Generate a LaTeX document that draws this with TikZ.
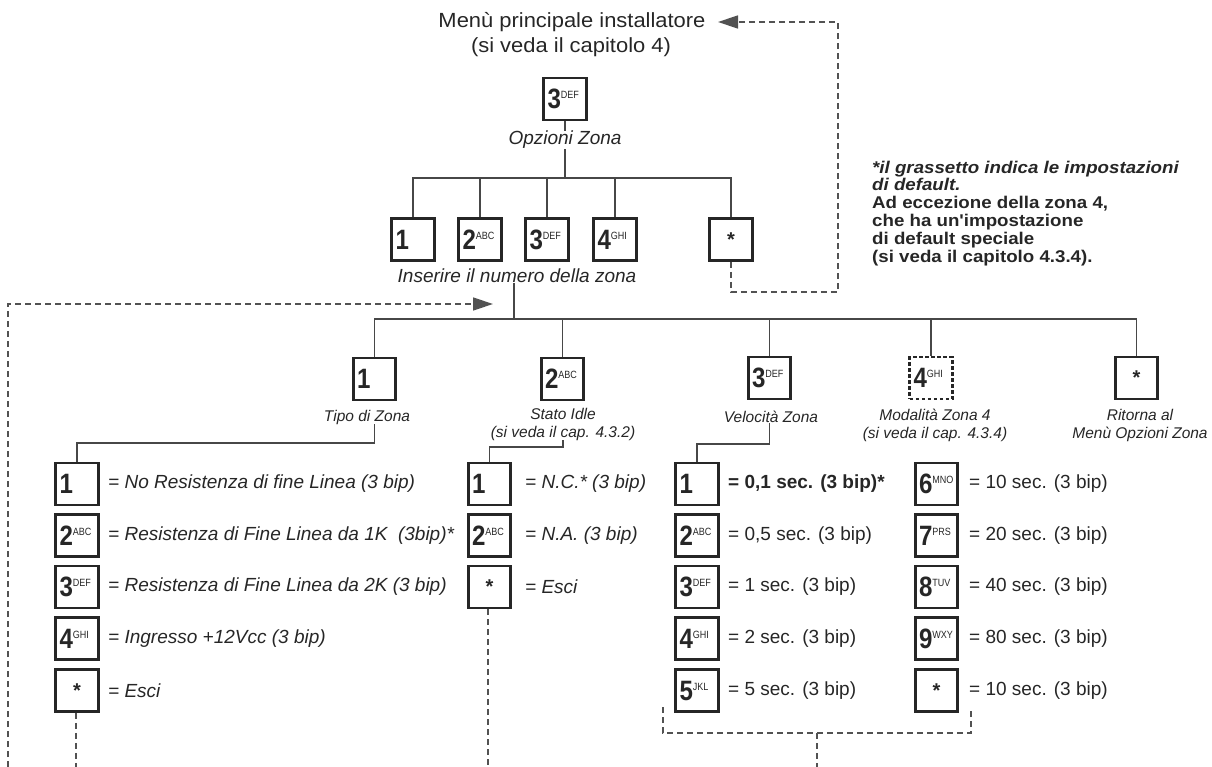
\documentclass[tikz,border=0pt]{standalone}
\usepackage{fontspec}
\setmainfont{Liberation Sans}
\newfontfamily\notefont[FakeStretch=1.1]{Liberation Sans}
\newfontfamily\titlefont[FakeStretch=1.07]{Liberation Sans}
\newfontfamily\keyfont[FakeStretch=0.86]{Liberation Sans}
\usetikzlibrary{arrows.meta}
\definecolor{ink}{gray}{0.15}
\newcommand\keyl[2]{\hbox to 38bp{\hspace{1.5bp}{\keyfont\fontsize{28bp}{28bp}\selectfont\bfseries #1}\raisebox{10bp}{\keyfont\fontsize{10.5bp}{10.5bp}\selectfont #2}\hss}}
\newcommand\keystar{\hbox to 38bp{\hss{\fontsize{20bp}{20bp}\selectfont\bfseries *}\hss}}
\tikzset{
  keybox/.style={draw=ink, line width=2.6bp, minimum width=42.5bp, minimum height=42bp, inner sep=0pt, text=ink},
  keyboxd/.style={keybox, dash pattern=on 3.5bp off 2.5bp},
  conn/.style={draw=ink!85, line width=1.3bp},
  dsh/.style={draw=ink!80, line width=1.4bp, dash pattern=on 6bp off 4bp},
  arrowend/.style={-{Triangle[length=20bp,width=13bp]}},
  opt/.style={anchor=west, inner sep=0pt, text=ink, font=\fontsize{19bp}{22bp}\selectfont\itshape},
  optr/.style={anchor=west, inner sep=0pt, text=ink, font=\fontsize{19bp}{22bp}\selectfont},
  optb/.style={anchor=west, inner sep=0pt, text=ink, font=\fontsize{19bp}{22bp}\selectfont\bfseries},
  sub/.style={inner sep=0pt, text=ink, align=center, font=\fontsize{15.5bp}{18bp}\selectfont\itshape},
  mid/.style={inner sep=0pt, text=ink, font=\fontsize{19bp}{22bp}\selectfont\itshape},
  ttl/.style={inner sep=0pt, text=ink, font=\titlefont\fontsize{20.5bp}{24bp}\selectfont},
}
\begin{document}
\begin{tikzpicture}[x=1bp,y=-1bp]
\useasboundingbox (0,0) rectangle (1212,767);

% title
\node[ttl] (title1) at (572,22) {Menù principale installatore};
\node[ttl] (title2) at (571,47) {(si veda il capitolo 4)};

% top key
\node[keybox] (k0) at (565,99) {\keyl{3}{DEF}};
\node[mid] (opz) at (565,140) {Opzioni Zona};
\coordinate (bus1) at (565,178);

% row 2
\node[keybox] (r1) at (413,239.5) {\keyl{1}{}};
\node[keybox] (r2) at (480,239.5) {\keyl{2}{ABC}};
\node[keybox] (r3) at (547,239.5) {\keyl{3}{DEF}};
\node[keybox] (r4) at (615,239.5) {\keyl{4}{GHI}};
\node[keybox] (r5) at (731,239.5) {\keystar};
\node[mid] (ins) at (517,276) {Inserire il numero della zona};
\coordinate (bus2) at (514,319);

% row 3
\node[keybox] (t1) at (374.5,379) {\keyl{1}{}};
\node[keybox] (t2) at (562.5,379) {\keyl{2}{ABC}};
\node[keybox] (t3) at (769.5,378) {\keyl{3}{DEF}};
\node[keyboxd] (t4) at (931,378) {\keyl{4}{GHI}};
\node[keybox] (t5) at (1136.5,378) {\keystar};

\node[sub] (tipo) at (367,417) {Tipo di Zona};
\node[sub] (stato) at (563,424) {Stato Idle\\(si veda il cap. 4.3.2)};
\node[sub] (vel) at (771,417) {Velocità Zona};
\node[sub] (moda) at (935,425.5) {Modalità Zona 4\\(si veda il cap. 4.3.4)};
\node[sub] (rit) at (1140,425.5) {Ritorna al\\Menù Opzioni Zona};

% column A
\node[keybox] (a1) at (77,484) {\keyl{1}{}};
\node[keybox] (a2) at (77,535.5) {\keyl{2}{ABC}};
\node[keybox] (a3) at (77,587) {\keyl{3}{DEF}};
\node[keybox] (a4) at (77,638.5) {\keyl{4}{GHI}};
\node[keybox] (a5) at (77,690.5) {\keystar};
\node[opt] (at1) at (108,484) {= No Resistenza di fine Linea (3 bip)};
\node[opt] (at2) at (108,535.5) {= Resistenza di Fine Linea da 1K\ \ (3bip)*};
\node[opt] (at3) at (108,587) {= Resistenza di Fine Linea da 2K (3 bip)};
\node[opt] (at4) at (108,638.5) {= Ingresso +12Vcc (3 bip)};
\node[opt] (at5) at (108,690.5) {= Esci};

% column B
\node[keybox] (s1) at (489.5,484) {\keyl{1}{}};
\node[keybox] (s2) at (489.5,535.5) {\keyl{2}{ABC}};
\node[keybox] (s3) at (489.5,587) {\keystar};
\node[opt] (st1) at (525,484) {= N.C.* (3 bip)};
\node[opt] (st2) at (525,535.5) {= N.A. (3 bip)};
\node[opt] (st3) at (525,587) {= Esci};

% column C
\node[keybox] (v1) at (697,484) {\keyl{1}{}};
\node[keybox] (v2) at (697,535.5) {\keyl{2}{ABC}};
\node[keybox] (v3) at (697,587) {\keyl{3}{DEF}};
\node[keybox] (v4) at (697,638.5) {\keyl{4}{GHI}};
\node[keybox] (v5) at (697,690.5) {\keyl{5}{JKL}};
\node[optb] (vt1) at (728,484) {= 0,1 sec. (3 bip)*};
\node[optr] (vt2) at (728,535.5) {= 0,5 sec. (3 bip)};
\node[optr] (vt3) at (728,587) {= 1 sec. (3 bip)};
\node[optr] (vt4) at (728,638.5) {= 2 sec. (3 bip)};
\node[optr] (vt5) at (728,690.5) {= 5 sec. (3 bip)};

% column D
\node[keybox] (w1) at (936.5,484) {\keyl{6}{MNO}};
\node[keybox] (w2) at (936.5,535.5) {\keyl{7}{PRS}};
\node[keybox] (w3) at (936.5,587) {\keyl{8}{TUV}};
\node[keybox] (w4) at (936.5,638.5) {\keyl{9}{WXY}};
\node[keybox] (w5) at (936.5,690.5) {\keystar};
\node[optr] (wt1) at (969,484) {= 10 sec. (3 bip)};
\node[optr] (wt2) at (969,535.5) {= 20 sec. (3 bip)};
\node[optr] (wt3) at (969,587) {= 40 sec. (3 bip)};
\node[optr] (wt4) at (969,638.5) {= 80 sec. (3 bip)};
\node[optr] (wt5) at (969,690.5) {= 10 sec. (3 bip)};

% note
\node[anchor=north west, inner sep=0pt, align=left, text=ink,
      font=\notefont\fontsize{17bp}{17.8bp}\selectfont\bfseries] (note) at (872,160.5)
  {\textit{*il grassetto indica le impostazioni}\\\textit{di default.}\\Ad eccezione della zona 4,\\che ha un'impostazione\\di default speciale\\(si veda il capitolo 4.3.4).};

% solid connectors
\draw[conn] (k0) -- (opz);
\draw[conn] (opz.south) -- (bus1);
\draw[conn] (r1.north) |- (bus1) -| (r5.north);
\draw[conn] (r2.north) -- (r2.north |- bus1);
\draw[conn] (r3.north) -- (r3.north |- bus1);
\draw[conn] (r4.north) -- (r4.north |- bus1);

\draw[conn] (ins.south -| bus2) -- (bus2);
\draw[conn] (t1.north) |- (bus2) -| (t5.north);
\draw[conn] (t2.north) -- (t2.north |- bus2);
\draw[conn] (t3.north) -- (t3.north |- bus2);
\draw[conn] (t4.north) -- (t4.north |- bus2);

\coordinate (c1) at (374.5,443);
\draw[conn] (tipo.south -| c1) -- (c1) -| (a1.north);
\coordinate (c2) at (563,447);
\draw[conn] (stato.south -| c2) -- (c2) -| (s1.north);
\coordinate (c3) at (769.5,444);
\draw[conn] (vel.south -| c3) -- (c3) -| (v1.north);

% dashed returns
\coordinate (rc) at (838,292);
\coordinate (tarr) at (718,22);
\draw[dsh, arrowend] (r5.south) |- (rc) |- (tarr);

\coordinate (lb) at (8,767);
\coordinate (larr) at (493,304);
\draw[dsh, arrowend] (lb) |- (larr);

\coordinate (ea) at (76,767);
\draw[dsh] (a5.south -| ea) -- (ea);
\coordinate (eb) at (488,767);
\draw[dsh] (s3.south -| eb) -- (eb);

\coordinate (blt) at (663,707);
\coordinate (brt) at (971,707);
\coordinate (bbr) at (971,733);
\coordinate (bm) at (817,733);
\coordinate (em) at (817,767);
\draw[dsh] (blt) |- (bbr) -- (brt);
\draw[dsh] (bm) -- (em);
\end{tikzpicture}
\end{document}
